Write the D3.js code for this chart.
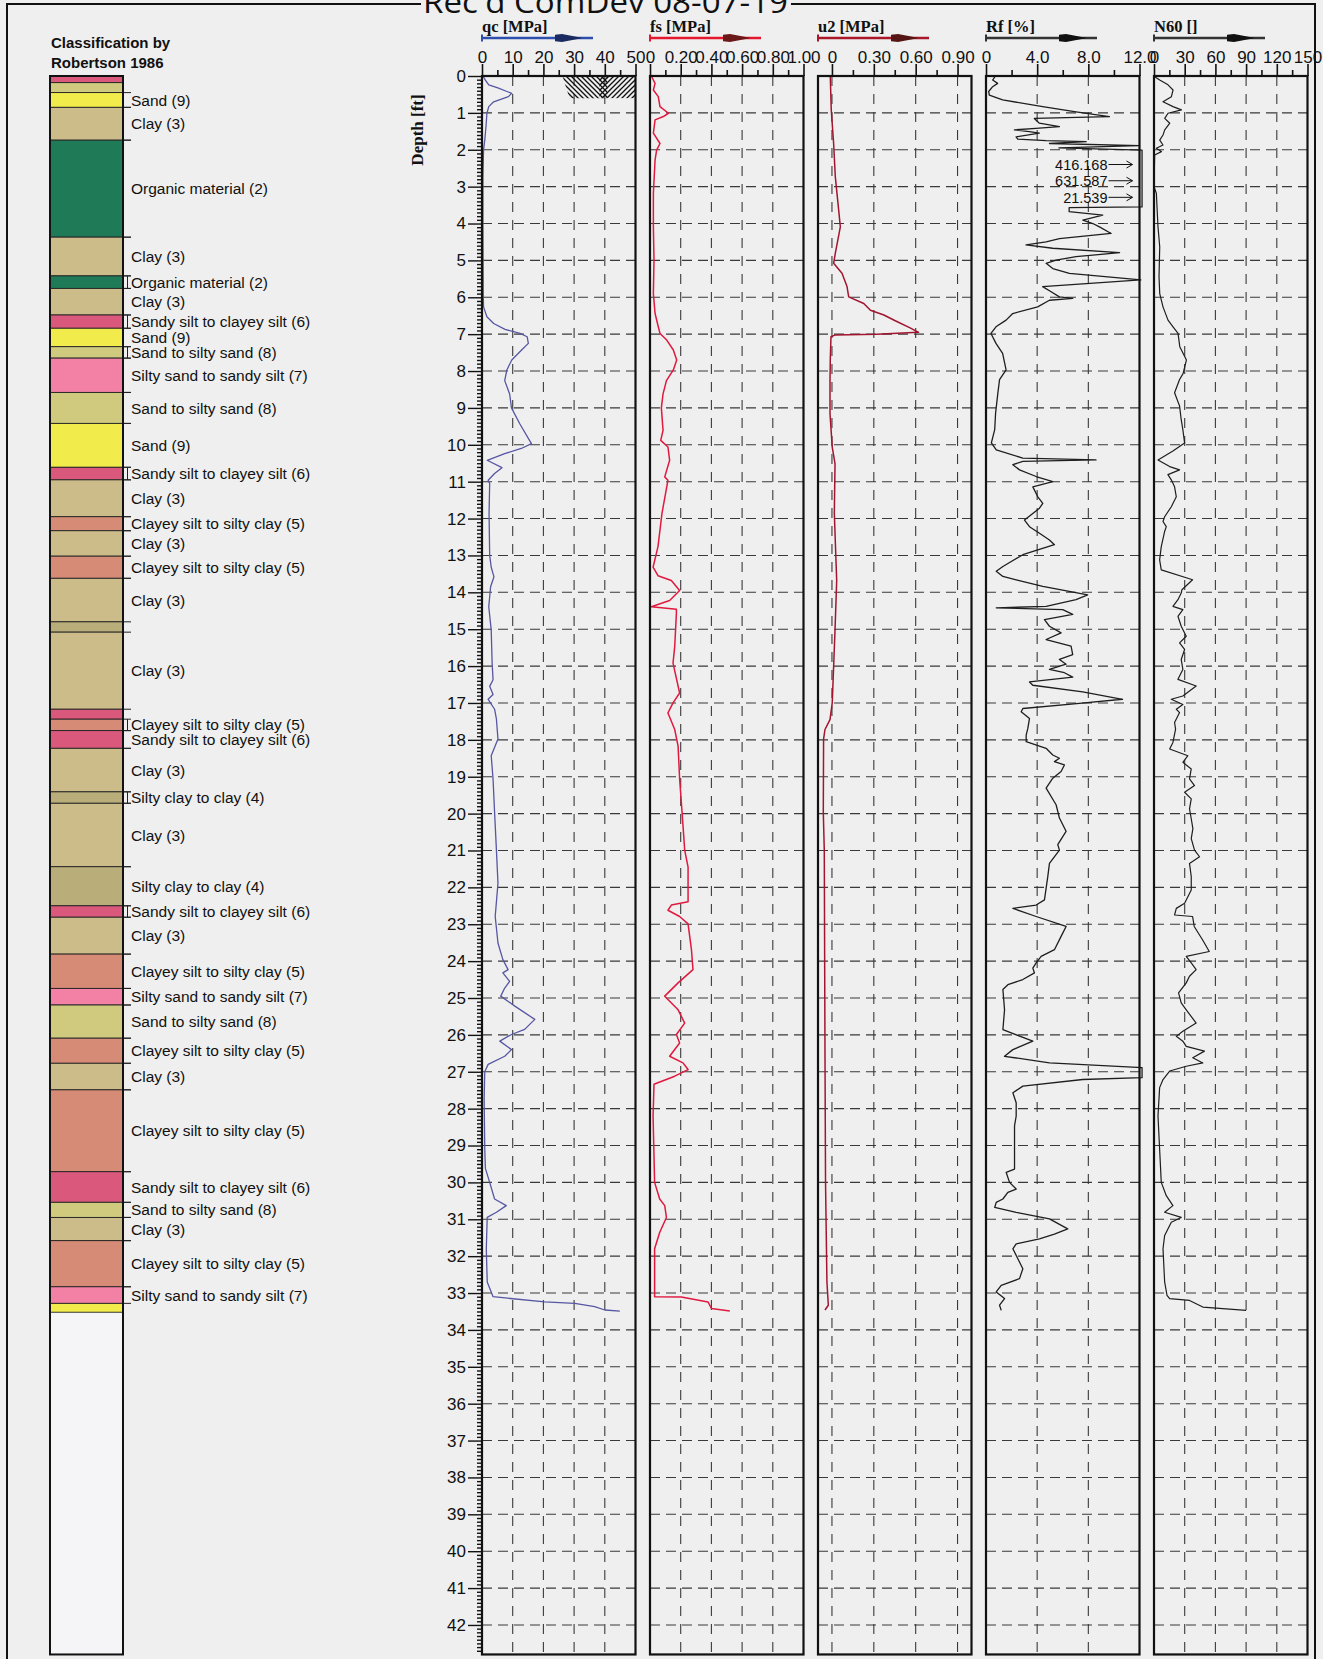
<!DOCTYPE html>
<html><head><meta charset="utf-8">
<script src="https://cdn.jsdelivr.net/npm/d3@7"></script>
<style>
html,body{margin:0;padding:0;background:#efefef;}
svg{display:block;}
</style></head><body>
<svg id="chart" width="1323" height="1659"></svg>
<script>
// ---------------- DATA ----------------
const title = "Rec'd ComDev 08-07-19";
const classTitle = ["Classification by", "Robertson 1986"];
const depthLabel = "Depth [ft]";
const depthMax = 42.8;
const depthTicks = d3.range(0, 43, 1);

const zoneCode  = [2, 3, 4, 5, 6, 7, 8, 9];
const zoneName  = ["Organic material (2)", "Clay (3)", "Silty clay to clay (4)", "Clayey silt to silty clay (5)",
                   "Sandy silt to clayey silt (6)", "Silty sand to sandy silt (7)", "Sand to silty sand (8)", "Sand (9)"];
const zoneColor = ["#1f7a57", "#ccbc89", "#b9ad7a", "#d68b77", "#d9587c", "#f281a5", "#cfca7e", "#f1ec4c"];

const layerBounds = [0,0.18,0.45,0.85,1.74,4.37,5.42,5.76,6.48,6.84,7.34,7.65,8.58,9.42,10.61,10.95,11.95,12.33,13.02,13.62,
                     14.80,15.08,17.17,17.44,17.75,18.23,19.41,19.72,21.44,22.50,22.81,23.81,24.74,25.19,26.09,26.77,27.49,
                     29.71,30.54,30.95,31.58,32.83,33.28,33.52];
const layerZone   = [6,8,9,3,2,3,2,3,6,9,8,7,8,9,6,3,5,3,5,3,4,3,6,5,6,3,4,3,4,6,3,5,7,8,5,3,5,6,8,3,5,7,9];
const layerLabeled= [0,0,1,1,1,1,1,1,1,1,1,1,1,1,1,1,1,1,1,1,0,1,0,1,1,1,1,1,1,1,1,1,1,1,1,1,1,1,1,1,1,1,0];

const panelNames  = ["qc [MPa]", "fs [MPa]", "u2 [MPa]", "Rf [%]", "N60 []"];
const qcTicks  = [0,10,20,30,40,50],  qcMinor  = [5,15,25,35,45],    qcGrid  = [10,20,30,40];
const fsTicks  = [0,0.2,0.4,0.6,0.8,1.0], fsMinor = [0.1,0.3,0.5,0.7,0.9], fsGrid = [0.2,0.4,0.6,0.8];
const u2Ticks  = [0,0.3,0.6,0.9], u2Minor = [0.15,0.45,0.75], u2Grid = [0,0.3,0.6,0.9];
const rfTicks  = [0,4,8,12], rfMinor = [2,6,10], rfGrid = [4,8];
const n60Ticks = [0,30,60,90,120,150], n60Minor = [15,45,75,105,135], n60Grid = [30,60,90,120];
const predrill = [0, 0.6];

const qcData = [[0,0.3],[0.11,1.1],[0.24,2.2],[0.33,5.4],[0.42,8.1],[0.47,9.7],[0.56,8.6],[0.70,3.8],[0.83,2.2],[1.01,1.6],
 [1.37,1.3],[1.74,0.9],[2.01,0.5],[2.73,0.3],[4.09,0.3],[5.90,0.4],[6.26,0.5],[6.53,1.6],[6.71,3.8],[6.87,7.5],[6.98,12.4],
 [7.07,14.7],[7.25,15.1],[7.43,12.9],[7.70,9.7],[7.97,8.1],[8.26,7.4],[8.62,9.0],[9.0,9.6],[9.43,12.3],[9.97,16.1],[10.1,12.8],
 [10.24,7.4],[10.42,1.7],[10.62,6.5],[10.78,4.1],[10.96,2.0],[11.05,2.5],[11.86,2.3],[13.0,2.5],[13.32,3.0],[13.58,3.9],
 [13.85,2.8],[14.39,2.2],[15.02,3.0],[15.92,3.3],[16.37,3.6],[16.55,2.5],[16.77,3.6],[16.9,2.0],[17.17,4.1],[17.44,4.7],
 [17.98,5.2],[18.43,3.0],[19.06,3.6],[19.97,4.1],[20.99,4.7],[21.89,5.2],[22.79,4.3],[23.51,5.2],[23.96,6.8],[24.23,8.5],
 [24.32,6.8],[24.55,9.0],[24.73,7.4],[24.95,6.1],[25.22,10.7],[25.58,17.2],[25.85,13.9],[25.99,9.6],[26.17,5.8],[26.4,9.6],
 [26.58,7.4],[26.8,2.0],[27.0,0.9],[27.75,0.7],[29.08,0.9],[29.62,1.1],[30.0,2.5],[30.45,4.1],[30.63,7.9],[30.81,4.7],
 [30.95,1.7],[31.8,1.4],[32.7,1.7],[32.97,3.0],[33.1,3.6],[33.24,20.4],[33.28,30.2],[33.37,36.7],[33.46,40.0],[33.49,44.9]];

const fsData = [[0.02,0.011],[0.2,0.033],[0.38,0.022],[0.56,0.054],[0.83,0.065],[1.01,0.12],[1.1,0.087],[1.19,0.033],
 [1.55,0.022],[1.83,0.065],[2.01,0.043],[2.28,0.033],[3.18,0.022],[4.09,0.022],[4.99,0.026],[5.9,0.022],[6.44,0.033],
 [6.8,0.054],[6.98,0.065],[7.16,0.109],[7.43,0.152],[7.7,0.174],[7.97,0.152],[8.26,0.107],[8.62,0.085],[9.0,0.074],
 [9.61,0.085],[9.88,0.070],[10.06,0.117],[10.42,0.128],[10.87,0.096],[10.96,0.117],[11.86,0.078],[12.76,0.052],
 [13.32,0.020],[13.55,0.052],[13.68,0.139],[13.95,0.193],[14.22,0.128],[14.39,0.009],[14.46,0.172],[14.57,0.172],
 [15.47,0.161],[15.92,0.150],[16.73,0.193],[17.0,0.150],[17.27,0.117],[17.72,0.161],[18.17,0.183],[19.06,0.193],
 [19.97,0.209],[20.99,0.226],[21.45,0.248],[22.39,0.248],[22.48,0.139],[22.62,0.117],[22.79,0.193],[22.99,0.248],
 [23.69,0.270],[24.23,0.280],[24.59,0.183],[24.95,0.096],[25.32,0.183],[25.68,0.226],[25.99,0.172],[26.22,0.193],
 [26.58,0.128],[26.76,0.215],[26.94,0.248],[27.12,0.161],[27.34,0.026],[28.2,0.020],[30.0,0.030],[30.45,0.063],
 [30.63,0.096],[30.95,0.107],[31.36,0.063],[31.8,0.030],[32.97,0.030],[33.1,0.030],[33.11,0.204],[33.24,0.378],
 [33.42,0.400],[33.49,0.52]];

const u2Data = [[0,-0.012],[0.92,-0.005],[1.83,0.012],[2.73,0.024],[3.63,0.048],[4.09,0.060],[4.81,0.024],[5.08,0.012],
 [5.35,0.072],[5.71,0.108],[5.99,0.120],[6.17,0.228],[6.35,0.276],[6.48,0.372],[6.63,0.45],[6.83,0.56],[6.95,0.62],
 [7.0,0.32],[7.02,0.024],[7.07,-0.007],[7.7,-0.012],[8.26,-0.014],[9.16,-0.014],[10.06,0.002],[10.51,0.022],
 [11.86,0.017],[13.68,0.034],[15.02,0.022],[17.0,0.002],[17.45,-0.014],[17.72,-0.050],[17.98,-0.060],[19.97,-0.062],
 [20.99,-0.055],[26.4,-0.050],[30.0,-0.046],[32.7,-0.036],[33.33,-0.026],[33.46,-0.050]];

const rfData = [[0.02,0.7],[0.11,0.52],[0.2,0.91],[0.29,0.52],[0.42,0.21],[0.52,0.26],[0.65,1.3],[0.83,4.43],[0.97,7.04],
 [1.1,9.65],[1.15,3.78],[1.28,4.17],[1.37,5.74],[1.42,3.91],[1.46,2.22],[1.51,3.39],[1.55,4.17],[1.65,2.35],[1.71,2.48],
 [1.75,4.7],[1.78,7.83],[1.83,4.96],[1.89,12.0],[1.95,5.7],[2.01,12.3],[2.4,416.168],[2.84,631.587],[3.29,21.539],
 [3.55,12.4],[3.57,6.5],[3.68,6.5],[3.77,9.13],[3.91,7.57],[4.0,8.35],[4.09,8.87],[4.27,9.78],[4.41,5.74],[4.5,4.7],
 [4.58,3.13],[4.67,5.22],[4.79,10.44],[4.9,7.04],[4.99,5.48],[5.08,4.7],[5.22,5.22],[5.35,6.52],[5.53,12.1],[5.71,4.43],
 [5.85,5.09],[5.99,5.74],[6.03,6.78],[6.08,4.96],[6.26,4.04],[6.44,2.09],[6.62,1.57],[6.8,0.78],[6.98,0.39],[7.25,0.78],
 [7.52,1.3],[7.97,1.57],[8.23,1.06],[8.59,0.93],[9.14,0.75],[9.59,0.68],[9.95,0.42],[10.14,0.80],[10.36,2.88],[10.41,8.6],
 [10.45,2.88],[10.54,2.10],[10.68,2.62],[10.86,3.92],[11.0,5.22],[11.14,3.66],[11.41,4.05],[11.59,4.44],[11.72,4.18],
 [12.04,3.01],[12.22,3.40],[12.4,4.18],[12.58,4.96],[12.71,5.35],[12.85,4.05],[12.98,2.88],[13.3,1.32],[13.43,0.80],
 [13.57,1.32],[13.66,2.36],[13.84,4.44],[14.07,7.95],[14.2,7.04],[14.38,4.70],[14.42,0.80],[14.47,6.00],[14.6,6.78],
 [14.74,4.57],[14.92,4.96],[15.1,5.87],[15.28,4.70],[15.46,6.65],[15.69,6.78],[15.82,5.74],[15.95,6.26],[16.09,4.96],
 [16.18,6.13],[16.3,6.78],[16.43,3.40],[16.52,3.66],[16.7,7.56],[16.9,10.67],[17.01,7.30],[17.15,2.88],[17.24,2.75],
 [17.42,3.40],[17.69,3.27],[17.87,3.14],[18.05,3.14],[18.23,4.70],[18.41,5.22],[18.5,5.74],[18.59,5.35],[18.68,6.13],
 [18.86,5.87],[19.04,5.22],[19.31,4.70],[19.76,5.48],[20.12,5.74],[20.48,6.26],[20.84,5.61],[20.99,5.74],[21.35,4.96],
 [21.71,4.83],[22.34,4.57],[22.48,3.92],[22.57,2.10],[22.79,3.92],[23.06,6.26],[23.33,5.87],[23.69,5.35],[23.87,4.31],
 [24.05,3.92],[24.19,3.66],[24.32,3.79],[24.5,2.88],[24.64,1.71],[24.77,1.32],[25.32,1.45],[25.86,1.32],[26.17,3.66],
 [26.4,2.10],[26.58,1.45],[26.76,4.96],[26.89,12.3],[27.16,12.4],[27.21,7.56],[27.39,2.88],[27.57,2.10],[27.84,2.36],
 [28.2,2.36],[28.47,2.23],[29.1,2.23],[29.64,2.23],[29.73,1.58],[30.0,1.84],[30.18,2.36],[30.27,1.71],[30.45,1.32],
 [30.54,0.80],[30.68,0.68],[30.81,2.36],[30.99,4.96],[31.26,6.39],[31.4,5.35],[31.53,4.18],[31.67,2.36],[31.8,2.10],
 [32.07,2.49],[32.34,2.88],[32.61,2.62],[32.79,1.19],[32.97,0.80],[33.15,1.45],[33.33,1.06],[33.47,1.19]];

const n60Data = [[0.02,0.65],[0.11,5.6],[0.24,13.7],[0.38,18.6],[0.56,17.0],[0.7,8.8],[0.83,18.6],[0.92,26.8],[1.01,13.7],
 [1.15,10.5],[1.28,15.4],[1.46,10.5],[1.6,8.8],[1.74,5.6],[1.87,8.8],[1.96,2.3],[2.05,7.2],[2.14,0.65],[3.0,0.0],[3.18,2.3],
 [4.09,3.9],[4.63,5.6],[5.44,4.9],[5.9,5.6],[6.26,8.8],[6.62,13.7],[6.8,18.6],[6.98,23.5],[7.34,25.2],[7.7,31.7],[8.07,28.4],
 [8.23,25.0],[8.59,20.1],[8.95,25.0],[9.32,26.6],[9.59,28.2],[9.95,29.9],[10.17,18.5],[10.41,3.9],[10.59,15.3],[10.68,25.0],
 [10.81,13.6],[10.95,16.9],[11.14,20.1],[11.41,21.8],[11.68,16.9],[11.95,10.4],[12.08,8.8],[12.22,12.0],[12.35,10.4],
 [12.76,7.1],[13.12,5.5],[13.39,7.1],[13.66,37.7],[13.93,27.3],[14.02,26.6],[14.2,23.4],[14.38,18.5],[14.47,28.2],
 [14.65,23.4],[14.92,26.6],[15.19,31.5],[15.37,25.0],[15.55,29.9],[15.82,26.6],[16.09,28.2],[16.36,23.4],[16.54,41.2],
 [16.81,28.2],[16.9,16.9],[17.04,28.2],[17.17,21.8],[17.26,25.0],[17.53,20.1],[17.71,21.1],[18.07,18.5],[18.25,15.3],
 [18.43,33.1],[18.61,28.2],[18.79,36.4],[19.06,34.7],[19.24,39.6],[19.42,29.9],[19.6,36.4],[19.87,34.7],[20.14,36.4],
 [20.41,38.0],[20.68,36.4],[20.99,39.6],[21.17,44.5],[21.35,34.7],[21.71,36.4],[22.07,36.4],[22.43,29.9],[22.57,21.8],
 [22.75,20.1],[22.79,37.7],[23.06,39.3],[23.42,47.4],[23.74,54.0],[23.87,31.5],[24.05,36.4],[24.23,41.2],[24.41,34.7],
 [24.59,31.5],[24.86,24.0],[25.13,26.6],[25.32,31.5],[25.68,41.2],[25.9,28.2],[26.04,21.8],[26.17,28.2],[26.31,31.5],
 [26.44,49.3],[26.62,37.9],[26.76,47.7],[26.85,31.5],[26.98,15.3],[27.21,8.8],[27.43,5.5],[28.2,3.9],[30.0,7.1],[30.36,12.0],
 [30.63,18.5],[30.81,10.4],[30.95,26.6],[31.08,16.9],[31.44,10.4],[31.8,8.8],[32.7,10.4],[33.06,12.7],[33.15,15.3],
 [33.2,34.7],[33.29,41.2],[33.38,47.7],[33.47,90.0]];

// ---------------- LAYOUT / STYLE ----------------
const bg = "#efefef";
const topY = 76, pxPerFt = 36.88;
const panelX0 = 482, panelW = 153.5, panelStep = 168;
const colX0 = 50, colX1 = 123;
const svg = d3.select("#chart");

const y = d3.scaleLinear().domain([0, depthMax]).range([topY, topY + depthMax * pxPerFt]);
const bottomY = y(depthMax);

// outer frame
svg.append("rect").attr("x", 0).attr("y", 0).attr("width", 1323).attr("height", 1659).attr("fill", bg);
svg.append("rect").attr("x", 7).attr("y", 4).attr("width", 1308).attr("height", 1700)
  .attr("fill", "none").attr("stroke", "#111").attr("stroke-width", 2);

// title (stamp, partly cut off at the top edge as in the scan)
svg.append("rect").attr("x", 421).attr("y", 0).attr("width", 370).attr("height", 9).attr("fill", bg);
svg.append("text").attr("x", 605.5).attr("y", 12.5).attr("text-anchor", "middle")
  .attr("font-family", "'Open Sans', 'Noto Sans', sans-serif").attr("font-size", 31).attr("fill", "#111")
  .attr("textLength", 365).attr("lengthAdjust", "spacingAndGlyphs").text(title);

// ---------------- Classification column ----------------
const sans = "'Liberation Sans', Arial, sans-serif";
const serif = "'Liberation Serif', 'Times New Roman', serif";
svg.selectAll("text.ct").data(classTitle).join("text").attr("class", "ct")
  .attr("x", 51).attr("y", (d, i) => 48 + i * 20)
  .attr("font-family", sans).attr("font-weight", "bold").attr("font-size", 15).attr("fill", "#111").text(d => d);

const colG = svg.append("g");
colG.append("rect").attr("x", colX0).attr("y", topY).attr("width", colX1 - colX0).attr("height", bottomY - topY).attr("fill", "#f5f5f8");
const layers = layerZone.map((z, i) => ({ top: layerBounds[i], bot: layerBounds[i + 1], zone: z, lab: layerLabeled[i] }));
const zc = z => zoneColor[zoneCode.indexOf(z)];
const zn = z => zoneName[zoneCode.indexOf(z)];
colG.selectAll("rect.layer").data(layers).join("rect").attr("class", "layer")
  .attr("x", colX0).attr("width", colX1 - colX0)
  .attr("y", d => y(d.top)).attr("height", d => y(d.bot) - y(d.top))
  .attr("fill", d => zc(d.zone)).attr("stroke", "#222").attr("stroke-width", 0.9);
// leader ticks & brackets
const labeled = layers.filter(d => d.lab);
labeled.forEach(d => {
  [d.top, d.bot].forEach(b => colG.append("line").attr("x1", colX1).attr("x2", colX1 + 8)
    .attr("y1", y(b)).attr("y2", y(b)).attr("stroke", "#222").attr("stroke-width", 1));
  if (y(d.bot) - y(d.top) < 14) colG.append("line").attr("x1", colX1 + 4.5).attr("x2", colX1 + 4.5)
    .attr("y1", y(d.top)).attr("y2", y(d.bot)).attr("stroke", "#222").attr("stroke-width", 1);
});
colG.selectAll("text.lbl").data(labeled).join("text").attr("class", "lbl")
  .attr("x", 131).attr("y", d => (y(d.top) + y(d.bot)) / 2).attr("dy", "0.36em")
  .attr("font-family", sans).attr("font-size", 15.5).attr("fill", "#111").text(d => zn(d.zone));
colG.append("rect").attr("x", colX0).attr("y", topY).attr("width", colX1 - colX0).attr("height", bottomY - topY)
  .attr("fill", "none").attr("stroke", "#111").attr("stroke-width", 2);

// ---------------- Depth axis ----------------
const dAxis = svg.append("g").attr("transform", `translate(${panelX0},0)`);
dAxis.call(d3.axisLeft(y).tickValues(d3.range(0, depthMax, 0.1).filter(v => Math.abs(v - Math.round(v)) > 0.01)).tickSize(5).tickFormat(""))
  .call(g => g.select(".domain").remove());
const dMaj = svg.append("g").attr("transform", `translate(${panelX0},0)`)
  .call(d3.axisLeft(y).tickValues(depthTicks).tickSize(14).tickPadding(2).tickFormat(d3.format("d")))
  .call(g => g.select(".domain").remove());
svg.selectAll(".tick line").attr("stroke", "#111").attr("stroke-width", 1.4);
dMaj.selectAll("text").attr("font-family", sans).attr("font-size", 17).attr("fill", "#111");
svg.append("text").attr("transform", `translate(423,130) rotate(-90)`).attr("text-anchor", "middle")
  .attr("font-family", serif).attr("font-weight", "bold").attr("font-size", 17).attr("fill", "#111").text(depthLabel);

// ---------------- Panels ----------------
const panels = [
  { name: panelNames[0], dom: [0, 50],   ticks: qcTicks,  minor: qcMinor,  grid: qcGrid,  fmt: d3.format("d"),
    data: qcData,  color: "#5656a3", width: 1.3, arrow: "#2d4fae", head: "#1b2a60" },
  { name: panelNames[1], dom: [0, 1],    ticks: fsTicks,  minor: fsMinor,  grid: fsGrid,  fmt: v => v === 0 ? "0" : d3.format(".2f")(v),
    data: fsData,  color: "#e0193f", width: 1.5, arrow: "#e5172f", head: "#6b1818" },
  { name: panelNames[2], dom: [-0.1, 1], ticks: u2Ticks,  minor: u2Minor,  grid: u2Grid,  fmt: v => v === 0 ? "0" : d3.format(".2f")(v),
    data: u2Data,  color: "#a3142f", width: 1.5, arrow: "#a8182a", head: "#551515" },
  { name: panelNames[3], dom: [0, 12],   ticks: rfTicks,  minor: rfMinor,  grid: rfGrid,  fmt: v => v === 0 ? "0" : d3.format(".1f")(v),
    data: rfData,  color: "#1e1e1e", width: 1.3, arrow: "#333", head: "#111", clampMax: 12.2, annotate: 12.5 },
  { name: panelNames[4], dom: [0, 150],  ticks: n60Ticks, minor: n60Minor, grid: n60Grid, fmt: d3.format("d"),
    data: n60Data, color: "#1e1e1e", width: 1.2, arrow: "#333", head: "#111" }
];

const defs = svg.append("defs");
const hb = defs.append("pattern").attr("id", "hatchB").attr("patternUnits", "userSpaceOnUse").attr("width", 5).attr("height", 5);
hb.append("path").attr("d", "M0,0 L5,5 M-1,4 L1,6 M4,-1 L6,1").attr("stroke", "#111").attr("stroke-width", 1.3);
const hf = defs.append("pattern").attr("id", "hatchF").attr("patternUnits", "userSpaceOnUse").attr("width", 5).attr("height", 5);
hf.append("path").attr("d", "M0,5 L5,0 M-1,1 L1,-1 M4,6 L6,4").attr("stroke", "#111").attr("stroke-width", 1.3);

panels.forEach((p, i) => {
  const x0 = panelX0 + i * panelStep, x1 = x0 + panelW;
  const x = d3.scaleLinear().domain(p.dom).range([x0, x1]);
  const g = svg.append("g");
  defs.append("clipPath").attr("id", "clip" + i).append("rect").attr("x", x0).attr("y", topY).attr("width", panelW).attr("height", bottomY - topY);

  // grid
  g.selectAll("line.hg").data(depthTicks.filter(d => d > 0)).join("line").attr("class", "hg")
    .attr("x1", x0).attr("x2", x1).attr("y1", d => y(d)).attr("y2", d => y(d))
    .attr("stroke", "#3a3a3a").attr("stroke-width", 1.1).attr("stroke-dasharray", "10,6");
  g.selectAll("line.vg").data(p.grid).join("line").attr("class", "vg")
    .attr("x1", d => x(d)).attr("x2", d => x(d)).attr("y1", topY).attr("y2", bottomY)
    .attr("stroke", "#3a3a3a").attr("stroke-width", 1.1).attr("stroke-dasharray", "10,8");

  // predrill hatch in the qc panel
  if (i === 0) {
    const hy0 = y(predrill[0]), hy1 = y(predrill[1]);
    g.append("path").attr("d", `M${x1 - 73},${hy0} L${x1 - 28},${hy0} L${x1 - 28},${hy1} L${x1 - 66},${hy1} Z`).attr("fill", "url(#hatchB)");
    g.append("rect").attr("x", x1 - 36).attr("y", hy0).attr("width", 36).attr("height", hy1 - hy0).attr("fill", "url(#hatchF)");
  }

  // curve
  const cm = p.clampMax;
  const line = d3.line().x(d => x(cm !== undefined ? Math.min(d[1], cm) : d[1])).y(d => y(d[0]));
  const path = g.append("path").datum(p.data).attr("d", line).attr("fill", "none")
    .attr("stroke", p.color).attr("stroke-width", p.width).attr("stroke-linejoin", "round");
  if (cm === undefined) path.attr("clip-path", `url(#clip${i})`);

  // off-scale annotations
  if (p.annotate !== undefined) {
    const off = p.data.filter(d => d[1] > p.annotate);
    off.forEach(d => {
      const yy = y(d[0]);
      g.append("text").attr("x", x1 - 32).attr("y", yy).attr("dy", "0.36em").attr("text-anchor", "end")
        .attr("font-family", sans).attr("font-size", 14.5).attr("fill", "#111").text(d3.format(".3f")(d[1]));
      g.append("line").attr("x1", x1 - 31).attr("x2", x1 - 7).attr("y1", yy).attr("y2", yy).attr("stroke", "#111").attr("stroke-width", 1);
      g.append("path").attr("d", `M${x1 - 13},${yy - 3.5} L${x1 - 7},${yy} L${x1 - 13},${yy + 3.5}`)
        .attr("fill", "none").attr("stroke", "#111").attr("stroke-width", 1);
    });
  }

  // frame
  g.append("rect").attr("x", x0).attr("y", topY).attr("width", panelW).attr("height", bottomY - topY)
    .attr("fill", "none").attr("stroke", "#111").attr("stroke-width", 2.2);

  // top axis
  const ax = svg.append("g").attr("transform", `translate(0,${topY})`);
  ax.append("g").call(d3.axisTop(x).tickValues(p.minor).tickSize(6).tickFormat("")).call(s => s.select(".domain").remove());
  const am = ax.append("g").call(d3.axisTop(x).tickValues(p.ticks).tickSize(12).tickPadding(1).tickFormat(p.fmt))
    .call(s => s.select(".domain").remove());
  ax.selectAll(".tick line").attr("stroke", "#111").attr("stroke-width", 1.6);
  am.selectAll("text").attr("font-family", sans).attr("font-size", 17).attr("fill", "#111");

  // header name + arrow
  svg.append("text").attr("x", x0).attr("y", 32).attr("font-family", serif).attr("font-weight", "bold")
    .attr("font-size", 16.5).attr("fill", "#111").text(p.name);
  const ay = 38;
  svg.append("line").attr("x1", x0).attr("x2", x0 + 111).attr("y1", ay).attr("y2", ay).attr("stroke", p.arrow).attr("stroke-width", 2.6);
  svg.append("line").attr("x1", x0).attr("x2", x0).attr("y1", ay - 3.5).attr("y2", ay + 3.5).attr("stroke", p.arrow).attr("stroke-width", 2);
  svg.append("path").attr("d", `M${x0 + 73},${ay - 3.2} L${x0 + 80},${ay - 4} L${x0 + 101},${ay} L${x0 + 80},${ay + 4} L${x0 + 73},${ay + 3.2} Z`)
    .attr("fill", p.head);
});
</script>
</body></html>
